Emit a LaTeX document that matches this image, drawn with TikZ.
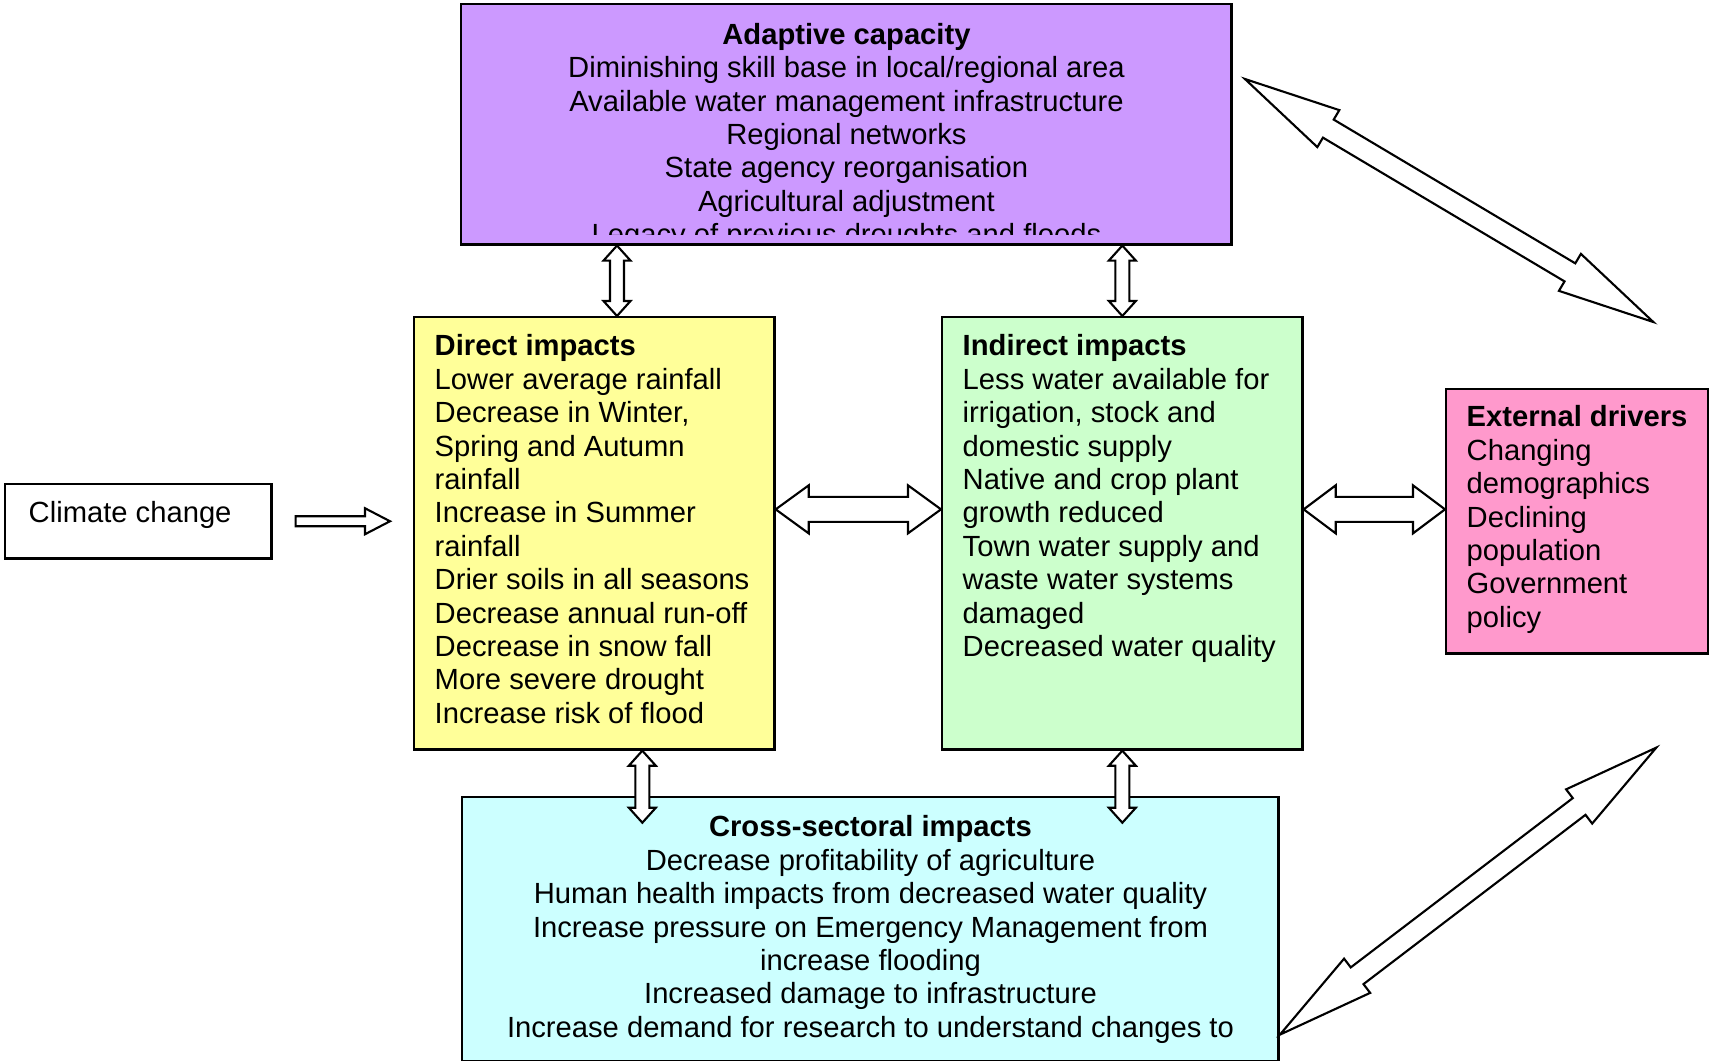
\documentclass[tikz,border=0pt]{standalone}
\usepackage{fontspec}
\setmainfont{Liberation Sans}
\usepackage{tikz}
\usetikzlibrary{calc}
\usetikzlibrary{positioning}
\definecolor{adaptfill}{HTML}{CC99FF}
\definecolor{directfill}{HTML}{FFFF99}
\definecolor{indirectfill}{HTML}{CCFFCC}
\definecolor{externalfill}{HTML}{FF99CC}
\definecolor{crossfill}{HTML}{CCFFFF}
\tikzstyle{boxstyle}=[draw, line width=0.7pt, rectangle, inner sep=0pt, anchor=north west]
\tikzstyle{textstyle}=[inner sep=0pt, align=left, font=\fontsize{8.3}{9.5}\selectfont]
\tikzstyle{arrowstyle}=[draw, line width=0.6pt, fill=white, line join=miter]
\newcommand{\blockarrow}[5]{
  \coordinate (ba1) at ($(#1)!#3!(#2)$);
  \coordinate (ba2) at ($(#2)!#3!(#1)$);
  \draw [arrowstyle] (#1) -- ($(ba1)!#4!90:(#2)$) -- ($(ba1)!#5!90:(#2)$) -- ($(ba2)!#5!-90:(#1)$) -- ($(ba2)!#4!-90:(#1)$) -- (#2) -- ($(ba2)!#4!90:(#1)$) -- ($(ba2)!#5!90:(#1)$) -- ($(ba1)!#5!-90:(#2)$) -- ($(ba1)!#4!-90:(#2)$) -- cycle;
}
\newcommand{\singlearrow}[5]{
  \coordinate (ba2) at ($(#2)!#3!(#1)$);
  \draw [arrowstyle] ($(#1)!#5!-90:(#2)$) -- ($(ba2)!#5!90:(#1)$) -- ($(ba2)!#4!90:(#1)$) -- (#2) -- ($(ba2)!#4!-90:(#1)$) -- ($(ba2)!#5!-90:(#1)$) -- ($(#1)!#5!90:(#2)$) -- cycle;
}

\begin{document}
\begin{tikzpicture}[x=0.01cm, y=-0.01cm]
\useasboundingbox (0,0) rectangle (1709,1061);
\node [boxstyle, fill=adaptfill, minimum width=7.70cm, minimum height=2.40cm] (adapt) at (460,3) {};
\node [boxstyle, fill=directfill, minimum width=3.60cm, minimum height=4.32cm] (direct) at (413,316) {};
\node [boxstyle, fill=indirectfill, minimum width=3.60cm, minimum height=4.32cm] (indirect) at (941,316) {};
\node [boxstyle, fill=externalfill, minimum width=2.62cm, minimum height=2.64cm] (external) at (1445,388) {};
\node [boxstyle, fill=crossfill, minimum width=8.16cm, minimum height=2.64cm] (cross) at (461,796) {};
\node [boxstyle, fill=white, minimum width=2.66cm, minimum height=0.74cm] (climate) at (4,483) {};

\begin{scope}
\clip (adapt.north west) rectangle ($(adapt.south east)+(0,-11)$);
\node [textstyle, align=center, below=1.95mm of adapt.north] (adapttext) {\textbf{Adaptive capacity}\\Diminishing skill base in local/regional area\\Available water management infrastructure\\Regional networks\\State agency reorganisation\\Agricultural adjustment\\Legacy of previous droughts and floods};
\end{scope}
\node [textstyle, below right=1.8mm and 2.1mm of direct.north west] (directtext) {\textbf{Direct impacts}\\Lower average rainfall\\Decrease in Winter,\\Spring and Autumn\\rainfall\\Increase in Summer\\rainfall\\Drier soils in all seasons\\Decrease annual run-off\\Decrease in snow fall\\More severe drought\\Increase risk of flood};
\node [textstyle, below right=1.8mm and 2.1mm of indirect.north west] (indirecttext) {\textbf{Indirect impacts}\\Less water available for\\irrigation, stock and\\domestic supply\\Native and crop plant\\growth reduced\\Town water supply and\\waste water systems\\damaged\\Decreased water quality};
\node [textstyle, below right=1.7mm and 2.1mm of external.north west] (externaltext) {\textbf{External drivers}\\Changing\\demographics\\Declining\\population\\Government\\policy};
\node [textstyle, align=center, below=1.9mm of cross.north] (crosstext) {\textbf{Cross-sectoral impacts}\\Decrease profitability of agriculture\\Human health impacts from decreased water quality\\Increase pressure on Emergency Management from\\increase flooding\\Increased damage to infrastructure\\Increase demand for research to understand changes to};
\node [textstyle, below right=1.8mm and 2.4mm of climate.north west] (climatetext) {Climate change};

\coordinate (aup) at ($(direct.north west)+(204,0)$);
\coordinate (adown) at (aup |- adapt.south);
\blockarrow{adown}{aup}{1.5mm}{1.35mm}{0.7mm}
\coordinate (bup) at (indirect.north |- adapt.south);
\blockarrow{bup}{indirect.north}{1.5mm}{1.35mm}{0.7mm}
\coordinate (ctop) at ($(direct.south)+(48,0)$);
\coordinate (cbot) at ($(ctop)+(0,72)$);
\blockarrow{ctop}{cbot}{1.5mm}{1.35mm}{0.7mm}
\coordinate (dbot) at ($(indirect.south)+(0,72)$);
\blockarrow{indirect.south}{dbot}{1.5mm}{1.35mm}{0.7mm}
\coordinate (eleft) at ($(direct.east)+(0,-24)$);
\coordinate (eright) at (eleft -| indirect.west);
\blockarrow{eleft}{eright}{3.3mm}{2.4mm}{1.25mm}
\coordinate (fleft) at (eleft -| indirect.east);
\coordinate (fright) at (eleft -| external.west);
\blockarrow{fleft}{fright}{3.2mm}{2.4mm}{1.25mm}
\coordinate (gstart) at ($(adapt.north east)+(12,76)$);
\coordinate (gend) at ($(external.north)+(76,-66)$);
\blockarrow{gstart}{gend}{9.7mm}{2.15mm}{1.05mm}
\coordinate (hstart) at ($(external.south)+(79,93)$);
\coordinate (hend) at ($(cross.south east)+(0,-28)$);
\blockarrow{hstart}{hend}{9.7mm}{2.15mm}{1.05mm}
\coordinate (kstart) at ($(climate.east)+(23,0)$);
\coordinate (kend) at ($(direct.west |- kstart)+(-23,0)$);
\singlearrow{kstart}{kend}{2.5mm}{1.3mm}{0.5mm}
\end{tikzpicture}
\end{document}
